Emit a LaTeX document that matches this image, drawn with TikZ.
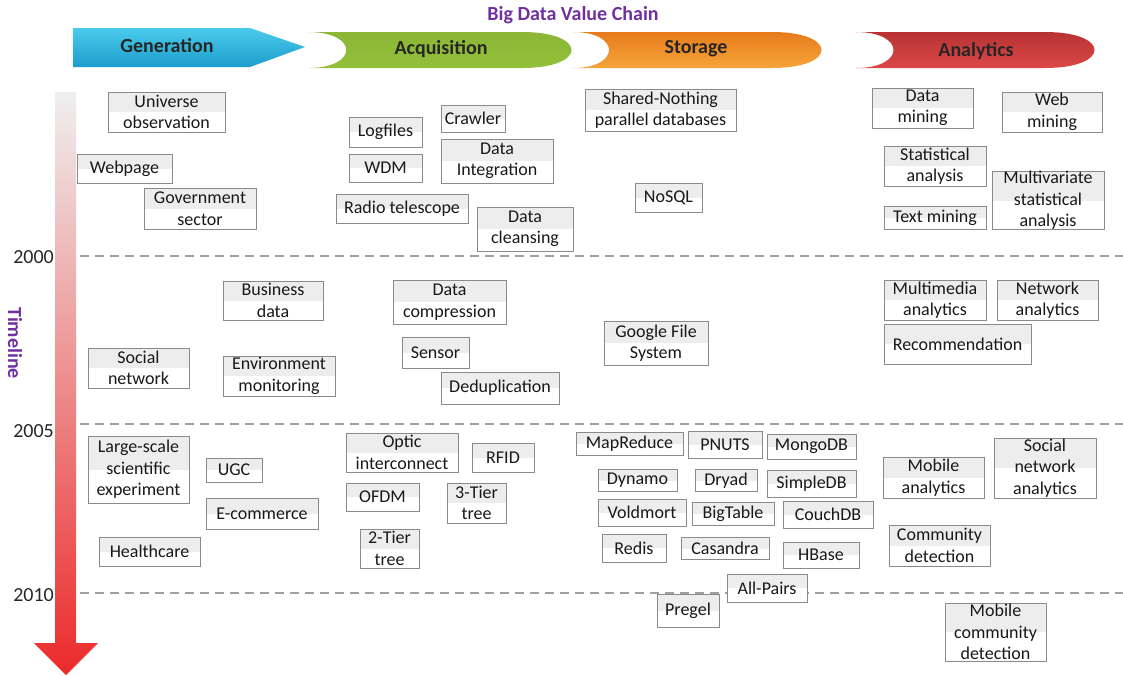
\documentclass[tikz,border=0pt]{standalone}
\usepackage{fontspec}
\setmainfont{Carlito}
\usetikzlibrary{positioning}

\definecolor{titlepurple}{HTML}{7030A0}
\definecolor{boxline}{HTML}{8A8A8A}
\definecolor{boxtop}{HTML}{EDEDED}
\definecolor{guidegray}{HTML}{A0A0A0}
\definecolor{yeartext}{HTML}{262626}
\definecolor{genTop}{HTML}{4BCBEC}
\definecolor{genBot}{HTML}{1B9DCB}
\definecolor{acqTop}{HTML}{8CB636}
\definecolor{acqMid}{HTML}{ADD356}
\definecolor{acqBot}{HTML}{93C03A}
\definecolor{stoTop}{HTML}{E77B1C}
\definecolor{stoMid}{HTML}{F7952B}
\definecolor{stoBot}{HTML}{F6A53A}
\definecolor{anaTop}{HTML}{B83232}
\definecolor{anaMid}{HTML}{D03C3C}
\definecolor{anaBot}{HTML}{DC4848}
\definecolor{timeTop}{HTML}{EFEFEF}
\definecolor{timeMid}{HTML}{F07575}
\definecolor{timeBot}{HTML}{EC2A2A}

\newcommand{\itemfont}{\fontsize{18}{21.5}\selectfont}
\newcommand{\stagefont}{\fontsize{20}{24}\selectfont\bfseries}

\begin{document}
\begin{tikzpicture}[x=1pt, y=-1pt,
    itembox/.style={draw=boxline, line width=0.9pt, fill=white, align=center, inner sep=0pt,
        font=\itemfont, text=black!90,
        path picture={\fill[boxtop] (path picture bounding box.north west) rectangle (path picture bounding box.east);}},
    stagelabel/.style={font=\stagefont, text=black!85},
    yearlabel/.style={font=\fontsize{20}{24}\selectfont, text=yeartext, anchor=east, inner sep=1pt},
    guide/.style={draw=guidegray, line width=1.4pt, dash pattern=on 9pt off 6pt}]

    \useasboundingbox (0,0) rectangle (1123,675);

    % title and value chain
    \node(TITLE)[font=\stagefont, text=titlepurple] at (573,15) {Big Data Value Chain};

    \shade[top color=genTop, bottom color=genBot]
        (73,28) -- (250,28) -- (305,47) -- (250,67) -- (73,67) -- cycle;
    \shade[top color=acqTop, middle color=acqMid, bottom color=acqBot]
        (308,32) -- (522,32) .. controls (588,32) and (588,68) .. (522,68) -- (308,68)
        .. controls (359,68) and (359,32) .. (308,32);
    \shade[top color=stoTop, middle color=stoMid, bottom color=stoBot]
        (573,32) -- (772,32) .. controls (838,32) and (838,68) .. (772,68) -- (573,68)
        .. controls (621,68) and (621,32) .. (573,32);
    \shade[top color=anaTop, middle color=anaMid, bottom color=anaBot]
        (856,32) -- (1045,32) .. controls (1111,32) and (1111,68) .. (1045,68) -- (856,68)
        .. controls (906,68) and (906,32) .. (856,32);

    \node(GEN)[stagelabel] at (167,46) {Generation};
    \node(ACQ)[stagelabel] at (441,49) {Acquisition};
    \node(STO)[stagelabel] at (696,49) {Storage};
    \node(ANA)[stagelabel] at (976,51) {Analytics};

    % timeline
    \shade[top color=timeTop, middle color=timeMid, bottom color=timeBot]
        (55,92) -- (76,92) -- (76,643) -- (98,643) -- (66,675) -- (34,643) -- (55,643) -- cycle;
    \node(TL)[font=\stagefont, text=titlepurple, rotate=-90] at (15,343) {Timeline};

    \node(Y00)[yearlabel] at (55,257) {2000};
    \node(Y05)[yearlabel] at (55,431) {2005};
    \node(Y10)[yearlabel] at (55,595) {2010};

    \draw[guide] (80,256) -- (1123,256);
    \draw[guide] (80,424) -- (1123,424);
    \draw[guide] (80,593) -- (1123,593);

    % generation
    \node(UO)[itembox, minimum width=117pt, minimum height=40pt] at (166.5,112) {Universe\\observation};
    \node(WP)[itembox, minimum width=95pt, minimum height=29pt] at (124.5,168.5) {Webpage};
    \node(GS)[itembox, minimum width=112pt, minimum height=41pt] at (200,208.5) {Government\\sector};
    \node(BD)[itembox, minimum width=100pt, minimum height=39pt] at (273,300.5) {Business\\data};
    \node(SN)[itembox, minimum width=101pt, minimum height=40pt] at (138.5,368) {Social\\network};
    \node(EM)[itembox, minimum width=112pt, minimum height=40pt] at (279,376) {Environment\\monitoring};
    \node(LS)[itembox, minimum width=101pt, minimum height=67pt] at (138.5,469.5) {Large-scale\\scientific\\experiment};
    \node(UGC)[itembox, minimum width=56pt, minimum height=24pt] at (234,470) {UGC};
    \node(EC)[itembox, minimum width=112pt, minimum height=31pt] at (262,513.5) {E-commerce};
    \node(HC)[itembox, minimum width=101pt, minimum height=29pt] at (149.5,551.5) {Healthcare};

    % acquisition
    \node(LF)[itembox, minimum width=73pt, minimum height=30pt] at (385.5,132) {Logfiles};
    \node(WDM)[itembox, minimum width=73pt, minimum height=28pt] at (385.5,168) {WDM};
    \node(RT)[itembox, minimum width=132pt, minimum height=29pt] at (402,208.5) {Radio telescope};
    \node(CR)[itembox, minimum width=64pt, minimum height=27pt] at (473,118.5) {Crawler};
    \node(DI)[itembox, minimum width=112pt, minimum height=44pt] at (497,161) {Data\\Integration};
    \node(DC)[itembox, minimum width=96pt, minimum height=44pt] at (525,229) {Data\\cleansing};
    \node(DCP)[itembox, minimum width=113pt, minimum height=44pt] at (449.5,302) {Data\\compression};
    \node(SE)[itembox, minimum width=67pt, minimum height=31pt] at (435.5,352.5) {Sensor};
    \node(DD)[itembox, minimum width=118pt, minimum height=32pt] at (500,388) {Deduplication};
    \node(OI)[itembox, minimum width=112pt, minimum height=39pt] at (402,452.5) {Optic\\interconnect};
    \node(RF)[itembox, minimum width=62pt, minimum height=29pt] at (503,457.5) {RFID};
    \node(OF)[itembox, minimum width=73pt, minimum height=28pt] at (382.5,497) {OFDM};
    \node(T3)[itembox, minimum width=59pt, minimum height=40pt] at (476.5,503) {3-Tier\\tree};
    \node(T2)[itembox, minimum width=59pt, minimum height=39pt] at (389.5,548.5) {2-Tier\\tree};

    % storage
    \node(SNP)[itembox, minimum width=151pt, minimum height=42pt] at (660.5,110) {Shared-Nothing\\parallel databases};
    \node(NS)[itembox, minimum width=67pt, minimum height=29pt] at (668.5,197.5) {NoSQL};
    \node(GFS)[itembox, minimum width=104pt, minimum height=44pt] at (656,343) {Google File\\System};
    \node(MR)[itembox, minimum width=107pt, minimum height=23pt] at (629.5,444) {MapReduce};
    \node(PN)[itembox, minimum width=74pt, minimum height=27pt] at (725,444.5) {PNUTS};
    \node(MG)[itembox, minimum width=89pt, minimum height=25pt] at (811.5,446.5) {MongoDB};
    \node(DY)[itembox, minimum width=79pt, minimum height=22pt] at (637.5,480.5) {Dynamo};
    \node(DR)[itembox, minimum width=62pt, minimum height=22pt] at (726,480.5) {Dryad};
    \node(SD)[itembox, minimum width=89pt, minimum height=27pt] at (811.5,483.5) {SimpleDB};
    \node(VM)[itembox, minimum width=88pt, minimum height=27pt] at (642,512.5) {Voldmort};
    \node(BT)[itembox, minimum width=82pt, minimum height=23pt] at (733,514) {BigTable};
    \node(CD)[itembox, minimum width=90pt, minimum height=27pt] at (828,514.5) {CouchDB};
    \node(RD)[itembox, minimum width=64pt, minimum height=28pt] at (634,548) {Redis};
    \node(CA)[itembox, minimum width=88pt, minimum height=22pt] at (725,548.5) {Casandra};
    \node(HB)[itembox, minimum width=76pt, minimum height=26pt] at (821,555) {HBase};
    \node(AP)[itembox, minimum width=80pt, minimum height=28pt] at (767,588) {All-Pairs};
    \node(PG)[itembox, minimum width=62pt, minimum height=33pt] at (688,610.5) {Pregel};

    % analytics
    \node(DM)[itembox, minimum width=101pt, minimum height=40pt] at (922.5,108) {Data\\mining};
    \node(WM)[itembox, minimum width=100pt, minimum height=40pt] at (1052,112) {Web\\mining};
    \node(SA)[itembox, minimum width=102pt, minimum height=40pt] at (935,166) {Statistical\\analysis};
    \node(MSA)[itembox, minimum width=112pt, minimum height=57pt] at (1048,200.5) {Multivariate\\statistical\\analysis};
    \node(TM)[itembox, minimum width=102pt, minimum height=23pt] at (935,217.5) {Text mining};
    \node(MA)[itembox, minimum width=102pt, minimum height=40pt] at (935,300) {Multimedia\\analytics};
    \node(NA)[itembox, minimum width=101pt, minimum height=40pt] at (1047.5,300) {Network\\analytics};
    \node(RC)[itembox, minimum width=147pt, minimum height=40pt] at (957.5,344) {Recommendation};
    \node(MOA)[itembox, minimum width=101pt, minimum height=41pt] at (933.5,477.5) {Mobile\\analytics};
    \node(SNA)[itembox, minimum width=102pt, minimum height=60pt] at (1045,468) {Social\\network\\analytics};
    \node(CMD)[itembox, minimum width=101pt, minimum height=41pt] at (939.5,545.5) {Community\\detection};
    \node(MCD)[itembox, minimum width=101pt, minimum height=58pt] at (995.5,632) {Mobile\\community\\detection};

\end{tikzpicture}
\end{document}
